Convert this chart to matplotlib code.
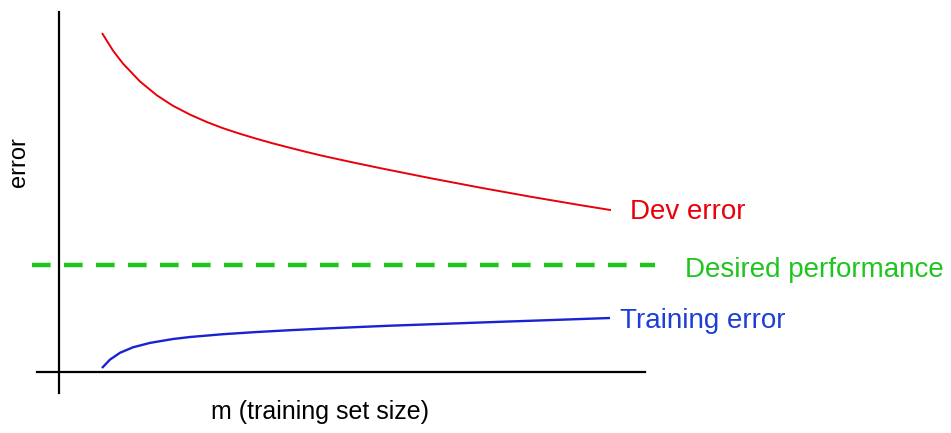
import matplotlib
matplotlib.use('Agg')
import matplotlib.pyplot as plt

plt.rcParams['font.family'] = ['Liberation Sans', 'DejaVu Sans']

# Dev error curve (m, error)
dev_m = [43, 54, 64, 81, 98, 114, 131, 148, 164, 181, 198, 214, 231, 248, 264,
         291, 321, 371, 421, 471, 521, 552]
dev_err = [339, 321.4, 308.4, 290.5, 276.6, 266.2, 257.4, 249.9, 243.8, 238.2, 233.1,
           228.6, 224.2, 219.9, 216.1, 210.2, 203.9, 193.9, 184.4, 175.4, 166.9, 161.9]

# Training error curve
train_m = [43, 51, 61, 74, 91, 114, 131, 164, 198, 231, 264, 298, 331, 391, 441, 491, 551]
train_err = [4, 12.4, 19.2, 24.7, 29.1, 33.0, 35.0, 37.8, 40.0, 41.8, 43.4, 44.9, 46.3,
             48.4, 50.2, 51.9, 54.0]

# Desired performance level and the span of its dashed line
desired = 107
desired_span = (-27, 596)

RED = '#e8000b'
GREEN = '#1ec51e'
BLUE = '#1d3fd8'
BLUE_LINE = '#1a22d2'

fig = plt.figure(figsize=(9.51, 4.33), dpi=100)
ax = fig.add_axes([0, 0, 1, 1])
ax.set_xlim(-59, 892)
ax.set_ylim(-61, 372)

# axes drawn as crossing lines through the origin
for side in ('top', 'right'):
    ax.spines[side].set_visible(False)
ax.spines['left'].set_position(('data', 0))
ax.spines['bottom'].set_position(('data', 0))
ax.spines['left'].set_bounds(-21, 360)
ax.spines['bottom'].set_bounds(-22, 586)
for side in ('left', 'bottom'):
    ax.spines[side].set_linewidth(1.6)
    ax.spines[side].set_color('black')
ax.set_xticks([])
ax.set_yticks([])
ax.patch.set_visible(False)

ax.plot(dev_m, dev_err, color=RED, lw=1.4, solid_capstyle='butt', solid_joinstyle='round')
ax.plot(train_m, train_err, color=BLUE_LINE, lw=1.7, solid_capstyle='butt',
        solid_joinstyle='round')
ax.hlines(desired, *desired_span, colors=GREEN, lw=3.2, linestyles=(0, (4.2, 3.0)))

ax.annotate('Dev error', (dev_m[-1], dev_err[-1]), xytext=(19, -2),
            textcoords='offset pixels', color=RED, fontsize=20, va='center', ha='left')
ax.annotate('Desired performance', (desired_span[1], desired), xytext=(30, -5),
            textcoords='offset pixels', color=GREEN, fontsize=20, va='center', ha='left')
ax.annotate('Training error', (train_m[-1], train_err[-1]), xytext=(10, -3),
            textcoords='offset pixels', color=BLUE, fontsize=20, va='center', ha='left')

fig.text(320 / 951, 1 - 412 / 433, 'm (training set size)', fontsize=18,
         ha='center', va='center')
fig.text(19 / 951, 1 - 162 / 433, 'error', fontsize=17, rotation=90,
         ha='center', va='center')

fig.savefig('out.png', dpi=100)
